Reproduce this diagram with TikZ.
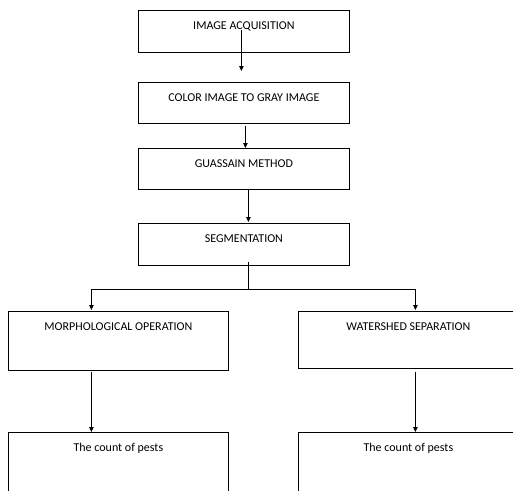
\documentclass[tikz,border=0pt]{standalone}
\usepackage{fontspec}
\setmainfont{Carlito}
\usetikzlibrary{arrows.meta}
\begin{document}
\begin{tikzpicture}[x=1pt,y=1pt,
  stage/.style={draw, line width=0.8pt, anchor=north west, minimum width=211pt,
    inner xsep=0pt, inner ysep=11.6pt, text height=7.7pt, text depth=#1,
    font=\fontsize{12}{14}\selectfont},
  stage/.default=11pt,
  flow/.style={line width=0.8pt, -{Triangle[length=5pt,width=4.5pt]}}]

  \useasboundingbox (0,0) rectangle (513,-490);
  \clip (0,0) rectangle (513,-490);

  %% stages
  \node[stage] (acq) at (138,-10) {IMAGE ACQUISITION};
  \node[stage=10pt] (gray) at (138,-82) {COLOR IMAGE TO GRAY IMAGE};
  \node[stage=10pt] (gauss) at (138,-148) {GUASSAIN METHOD};
  \node[stage] (seg) at (138,-223) {SEGMENTATION};

  %% two branches
  \node[stage=28pt, minimum width=220pt] (morph) at (8,-311) {MORPHOLOGICAL OPERATION};
  \node[stage=26pt, minimum width=220pt] (shed) at (298,-311) {WATERSHED SEPARATION};
  \node[stage=49pt, minimum width=220pt] (countL) at (8,-432) {The count of pests};
  \node[stage=49pt, minimum width=220pt] (countR) at (298,-432) {The count of pests};

  %% stage to stage
  \draw[flow] ([xshift=-2.5pt,yshift=-20pt]acq.north)
  -- ([xshift=-2.5pt,yshift=11pt]gray.north);
  \draw[flow] ([xshift=1.5pt,yshift=-2pt]gray.south) -- ([xshift=1.5pt]gauss.north);
  \draw[flow] ([xshift=4.5pt]gauss.south) -- ([xshift=4.5pt,yshift=1pt]seg.north);

  %% split
  \coordinate (fork) at ([xshift=4.5pt,yshift=-24pt]seg.south);
  \draw[line width=0.8pt] ([xshift=4.5pt,yshift=4pt]seg.south) -- (fork);
  \draw[flow] (fork) -| ([xshift=-27pt,yshift=1pt]morph.north);
  \draw[flow] (fork) -| ([xshift=7pt,yshift=1pt]shed.north);

  %% branch to count
  \draw[flow] ([xshift=-27pt,yshift=-1pt]morph.south) -- ([xshift=-27pt]countL.north);
  \draw[flow] ([xshift=7pt,yshift=-3pt]shed.south) -- ([xshift=7pt]countR.north);

\end{tikzpicture}
\end{document}
